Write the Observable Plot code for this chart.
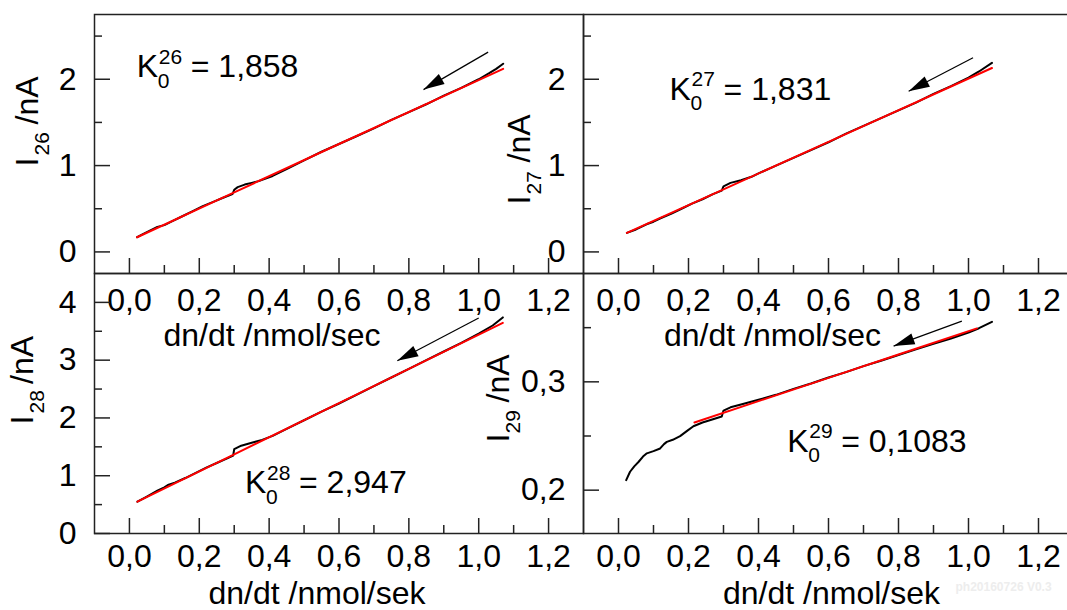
<!DOCTYPE html>
<html>
<head>
<meta charset="utf-8">
<script src="https://cdn.jsdelivr.net/npm/d3@7"></script>
<script src="https://cdn.jsdelivr.net/npm/@observablehq/plot@0.6"></script>
<style>
  html, body { margin: 0; padding: 0; background: #fff; overflow: hidden; }
  #fig { position: relative; width: 1067px; height: 610px; overflow: hidden; background: #fff; }
  #fig svg { position: absolute; }
</style>
</head>
<body>
<div id="fig"></div>
<script>
// ---------- data ----------
const xTickValues = [0, 0.2, 0.4, 0.6, 0.8, 1.0, 1.2];
const xTickLabels = ["0,0", "0,2", "0,4", "0,6", "0,8", "1,0", "1,2"];
const xMinorTicks = [0.1, 0.3, 0.5, 0.7, 0.9, 1.1];
const xTitleTop = "dn/dt /nmol/sec";
const xTitleBottom = "dn/dt /nmol/sek";

// panel I26
const yTicks26 = [0, 1, 2];
const yTickLabels26 = ["0", "1", "2"];
const yMinor26 = [0.5, 1.5, 2.5];
const x26 = [0.022,0.04,0.06,0.08,0.10,0.12,0.15,0.18,0.21,0.24,0.27,0.295,0.30,0.31,0.33,0.35,0.37,0.39,0.41,0.45,0.50,0.55,0.60,0.65,0.70,0.75,0.80,0.85,0.90,0.95,1.00,1.03,1.05,1.07];
const i26 = [0.17,0.21,0.25,0.29,0.31,0.35,0.41,0.47,0.53,0.58,0.63,0.67,0.72,0.75,0.78,0.80,0.82,0.85,0.88,0.96,1.06,1.16,1.25,1.34,1.43,1.53,1.62,1.71,1.81,1.90,2.00,2.07,2.12,2.18];
const fitX26 = [0.022, 0.30, 0.60, 1.07];
const fitI26 = [0.17, 0.69, 1.25, 2.12];
const arrow26 = {x1: 1.027, y1: 2.314, x2: 0.842, y2: 1.88};
const k26 = {x: 0.021, y: 2.025, sup: "26", value: "= 1,858"};

// panel I27
const yTicks27 = [0, 1, 2];
const yTickLabels27 = ["0", "1", "2"];
const yMinor27 = [0.5, 1.5, 2.5];
const x27 = [0.024,0.05,0.08,0.10,0.12,0.15,0.18,0.21,0.24,0.27,0.295,0.30,0.32,0.35,0.38,0.40,0.45,0.50,0.55,0.60,0.65,0.70,0.75,0.80,0.85,0.90,0.95,1.00,1.03,1.067];
const i27 = [0.22,0.26,0.32,0.35,0.39,0.44,0.50,0.56,0.61,0.67,0.71,0.76,0.80,0.83,0.87,0.91,1.00,1.09,1.18,1.27,1.37,1.46,1.55,1.64,1.73,1.83,1.92,2.02,2.09,2.19];
const fitX27 = [0.024, 0.30, 0.60, 1.067];
const fitI27 = [0.22, 0.725, 1.275, 2.13];
const arrow27 = {x1: 1.013, y1: 2.249, x2: 0.829, y2: 1.86};
const k27 = {x: 0.146, y: 1.762, sup: "27", value: "= 1,831"};

// panel I28
const yTicks28 = [0, 1, 2, 3, 4];
const yTickLabels28 = ["0", "1", "2", "3", "4"];
const yMinor28 = [0.5, 1.5, 2.5, 3.5];
const x28 = [0.023,0.05,0.08,0.10,0.11,0.13,0.16,0.19,0.22,0.25,0.28,0.297,0.30,0.32,0.35,0.38,0.41,0.45,0.50,0.55,0.60,0.65,0.70,0.75,0.80,0.85,0.90,0.95,1.00,1.04,1.069];
const i28 = [0.55,0.64,0.74,0.80,0.84,0.88,0.96,1.05,1.14,1.22,1.30,1.35,1.46,1.52,1.57,1.62,1.69,1.81,1.96,2.11,2.25,2.40,2.55,2.70,2.85,3.00,3.15,3.30,3.46,3.60,3.74];
const fitX28 = [0.023, 0.30, 0.60, 1.069];
const fitI28 = [0.55, 1.37, 2.257, 3.645];
const arrow28 = {x1: 1.0, y1: 3.73, x2: 0.767, y2: 2.99};
const k28 = {x: 0.331, y: 0.697, sup: "28", value: "= 2,947"};

// panel I29
const yTicks29 = [0.2, 0.3];
const yTickLabels29 = ["0,2", "0,3"];
const yMinor29 = [0.25, 0.35];
const x29 = [0.022,0.033,0.045,0.057,0.07,0.081,0.10,0.119,0.13,0.138,0.155,0.176,0.195,0.214,0.24,0.27,0.295,0.30,0.32,0.35,0.40,0.45,0.50,0.55,0.60,0.65,0.70,0.75,0.80,0.85,0.90,0.95,1.00,1.03,1.067];
const i29 = [0.2092,0.217,0.222,0.226,0.231,0.234,0.236,0.2385,0.2425,0.2446,0.2465,0.2499,0.2545,0.259,0.2625,0.2655,0.268,0.2735,0.2765,0.279,0.2835,0.288,0.2935,0.2985,0.304,0.309,0.3145,0.3195,0.3247,0.33,0.335,0.34,0.3455,0.3495,0.3554];
const fitX29 = [0.217, 0.40, 0.60, 0.80, 1.024];
const fitI29 = [0.2625, 0.2822, 0.3037, 0.3252, 0.3493];
const arrow29 = {x1: 0.981, y1: 0.356, x2: 0.786, y2: 0.333};
const k29 = {x: 0.482, y: 0.2354, sup: "29", value: "= 0,1083"};

// ---------- drawing ----------
const ink = "#222";
const FONT = "'Liberation Sans', Arial, sans-serif";
const FS = 32, FS_SMALL = 21;

const headSymbol = {
  draw(ctx, size) {
    const r = Math.sqrt(size / Math.PI);
    const L = 2 * r, W = 1.1 * r;
    ctx.moveTo(0, 0);
    ctx.lineTo(-W / 2, L);
    ctx.lineTo(W / 2, L);
    ctx.closePath();
  }
};

function table(xs, ys) { return xs.map((x, i) => ({x, y: ys[i]})); }

function panel(p) {
  const {left, top, width: w, height: h} = p;
  const marks = [
    Plot.frame({stroke: ink, strokeWidth: 1.5}),
    Plot.tickX(xTickValues, {x: d => d, insetTop: h - 15, stroke: ink, strokeWidth: 1.5}),
    Plot.tickX(xMinorTicks, {x: d => d, insetTop: h - 8, stroke: ink, strokeWidth: 1.5}),
    Plot.tickY(p.yTicks, {y: d => d, insetRight: w - 16, stroke: ink, strokeWidth: 1.5}),
    Plot.tickY(p.yMinor, {y: d => d, insetRight: w - 8, stroke: ink, strokeWidth: 1.5}),
    Plot.text(xTickValues, {x: d => d, text: (d, i) => xTickLabels[i], frameAnchor: "bottom", lineAnchor: "top", dy: p.xPad, fontSize: FS, fill: "#000"}),
    Plot.text(p.yTicks, {y: d => d, text: (d, i) => p.yTickLabels[i], frameAnchor: "left", textAnchor: "end", dx: -18, fontSize: FS, fill: "#000"}),
    Plot.text([p.xTitle], {text: d => d, frameAnchor: "bottom", lineAnchor: "bottom", dx: p.titleDx, dy: p.titleDy, fontSize: FS, fill: "#000"}),
    // y axis label: I_nn /nA (rotated)
    Plot.text(["I"], {text: d => d, frameAnchor: "top-left", rotate: -90, textAnchor: "start", lineAnchor: "bottom", dx: p.yl.dx, dy: p.yl.dyI, fontSize: FS, fill: "#000"}),
    Plot.text([p.sub], {text: d => d, frameAnchor: "top-left", rotate: -90, textAnchor: "start", lineAnchor: "bottom", dx: p.yl.dx + 11, dy: p.yl.dyS, fontSize: FS_SMALL, fill: "#000"}),
    Plot.text(["/nA"], {text: d => d, frameAnchor: "top-left", rotate: -90, textAnchor: "start", lineAnchor: "bottom", dx: p.yl.dx, dy: p.yl.dyA, fontSize: FS, fill: "#000"}),
    // data
    Plot.line(p.black, {x: "x", y: "y", stroke: "#000", strokeWidth: 2}),
    Plot.line(p.red, {x: "x", y: "y", stroke: "#ff0000", strokeWidth: 2}),
    // arrow
    Plot.link([p.arrow], {x1: "x1", y1: "y1", x2: "x2", y2: "y2", stroke: "#000", strokeWidth: 1.2}),
    Plot.dot([p.arrow], {x: "x2", y: "y2", symbol: headSymbol, r: 10.5, fill: "#000", stroke: "none", rotate: p.arrowRotate}),
    // K annotation
    Plot.text([p.k], {x: "x", y: "y", text: () => "K", textAnchor: "start", lineAnchor: "bottom", fontSize: FS, fill: "#000"}),
    Plot.text([p.k], {x: "x", y: "y", text: "sup", textAnchor: "start", lineAnchor: "bottom", dx: 22, dy: -13.5, fontSize: FS_SMALL, fill: "#000"}),
    Plot.text([p.k], {x: "x", y: "y", text: () => "0", textAnchor: "start", lineAnchor: "bottom", dx: 21, dy: 10.5, fontSize: FS_SMALL, fill: "#000"}),
    Plot.text([p.k], {x: "x", y: "y", text: "value", textAnchor: "start", lineAnchor: "bottom", dx: 54, fontSize: FS, fill: "#000"})
  ];
  if (p.extra) marks.push(...p.extra);
  const svg = Plot.plot({
    width: w, height: h,
    marginTop: 0, marginRight: 0, marginBottom: 0, marginLeft: 0,
    x: {domain: [-0.1, 1.3], axis: null},
    y: {domain: p.yDomain, axis: null},
    style: {background: "transparent", overflow: "visible", fontFamily: FONT, maxWidth: "none"},
    marks
  });
  svg.style.left = left + "px";
  svg.style.top = top + "px";
  svg.style.position = "absolute";
  document.getElementById("fig").appendChild(svg);
}

panel({
  left: 94, top: 14, width: 489, height: 259, yDomain: [-0.25, 2.75],
  yTicks: yTicks26, yTickLabels: yTickLabels26, yMinor: yMinor26,
  xPad: 15, xTitle: xTitleTop, titleDx: -67, titleDy: 72,
  sub: "26", yl: {dx: -57, dyI: 152, dyS: 141, dyA: 110},
  black: table(x26, i26), red: table(fitX26, fitI26),
  arrow: arrow26, arrowRotate: -120, k: k26
});
panel({
  left: 583, top: 14, width: 490, height: 259, yDomain: [-0.25, 2.75],
  yTicks: yTicks27, yTickLabels: yTickLabels27, yMinor: yMinor27,
  xPad: 15, xTitle: xTitleTop, titleDx: -56, titleDy: 72,
  sub: "27", yl: {dx: -54, dyI: 190, dyS: 180, dyA: 148},
  black: table(x27, i27), red: table(fitX27, fitI27),
  arrow: arrow27, arrowRotate: -117.5, k: k27
});
panel({
  left: 94, top: 273, width: 489, height: 260, yDomain: [0, 4.5],
  yTicks: yTicks28, yTickLabels: yTickLabels28, yMinor: yMinor28,
  xPad: 11, xTitle: xTitleBottom, titleDx: -22, titleDy: 70,
  sub: "28", yl: {dx: -62, dyI: 151, dyS: 140, dyA: 110.5},
  black: table(x28, i28), red: table(fitX28, fitI28),
  arrow: arrow28, arrowRotate: -117.5, k: k28
});
panel({
  left: 583, top: 273, width: 490, height: 260, yDomain: [0.16, 0.40],
  yTicks: yTicks29, yTickLabels: yTickLabels29, yMinor: yMinor29,
  xPad: 11, xTitle: xTitleBottom, titleDx: 3, titleDy: 70,
  sub: "29", yl: {dx: -75, dyI: 169, dyS: 160, dyA: 129},
  black: table(x29, i29), red: table(fitX29, fitI29),
  arrow: arrow29, arrowRotate: -110, k: k29,
  extra: [Plot.text(["ph20160726 V0.3"], {text: d => d, frameAnchor: "bottom-left", textAnchor: "start", dx: 372, dy: 57, fontSize: 12, fontWeight: "bold", fill: "#ededed"})]
});
</script>
</body>
</html>
